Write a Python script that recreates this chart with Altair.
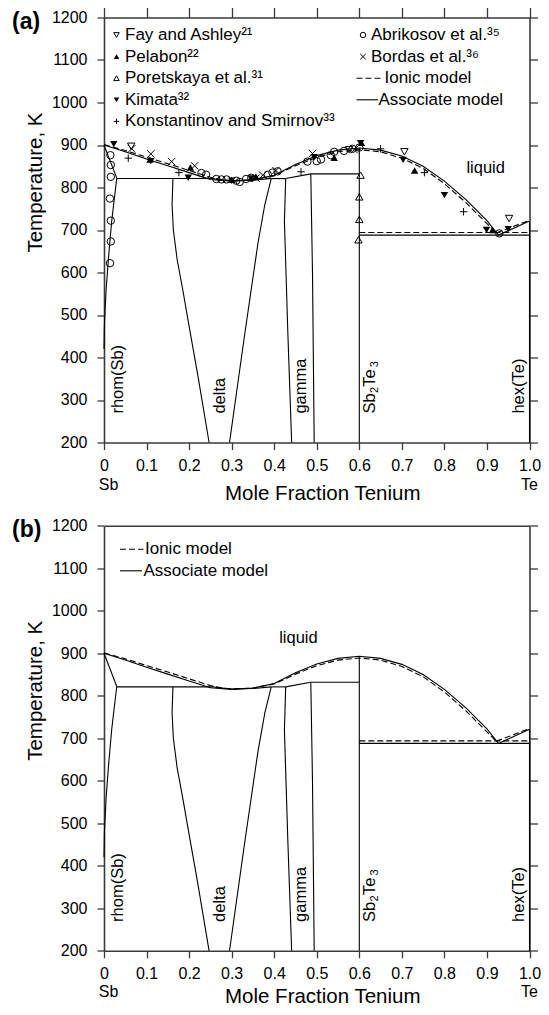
import altair as alt
import pandas as pd

FONT = "Liberation Sans"
W = 425.5         # plot width
PH = 425          # panel plot height
GAP = 508.3       # offset of panel (b) plot top below panel (a) plot top
HT = GAP + PH     # total inner height
AX = "#3a3a3a"

# ---------------- phase boundaries (Associate model, solid) ----------------
assoc = {
    "liq":      ([0, 0.05, 0.1, 0.15, 0.2, 0.25, 0.3, 0.35, 0.4, 0.45, 0.5, 0.55, 0.6, 0.65, 0.7, 0.75, 0.8, 0.85, 0.9, 0.927],
                 [900, 884, 867, 851, 835, 819, 815, 818, 829, 854, 875, 888, 893, 888, 874, 850, 815, 772, 722, 688]),
    "liqTe":    ([0.927, 1.0], [688, 721]),
    "rhomSol":  ([0, 0.03], [900, 822]),
    "rhomSolv": ([0.03, 0.025, 0.018, 0.011, 0.005, 0.001, 0.0], [822, 780, 720, 640, 560, 480, 420]),
    "eut1":     ([0.03, 0.26], [821, 821]),
    "deltaSol": ([0.26, 0.3, 0.35, 0.393], [820, 816, 817, 821]),
    "deltaL":   ([0.162, 0.160, 0.163, 0.172, 0.185, 0.198, 0.221, 0.247], [821, 760, 700, 630, 560, 485, 355, 200]),
    "deltaR":   ([0.295, 0.33, 0.362, 0.378, 0.393], [200, 450, 670, 760, 821]),
    "per1":     ([0.393, 0.427], [821, 821]),
    "gammaL":   ([0.427, 0.424, 0.432, 0.441], [821, 720, 460, 200]),
    "gammaTop": ([0.427, 0.486], [821, 832]),
    "gammaR":   ([0.486, 0.490, 0.494], [832, 600, 200]),
    "per2":     ([0.486, 0.6], [832, 832]),
    "sb2te3":   ([0.6, 0.6], [200, 893]),
    "eut2":     ([0.6, 1.0], [688, 688]),
    "hexTe":    ([1.0, 1.0], [721, 200]),
}
# ---------------- Ionic model (dashed) ----------------
ionic = {
    "liq":   ([0, 0.05, 0.1, 0.15, 0.2, 0.25, 0.28, 0.3, 0.35, 0.4, 0.45, 0.5, 0.55, 0.6, 0.65, 0.7, 0.75, 0.8, 0.85, 0.9, 0.922],
              [901, 887, 871, 856, 840, 824, 818, 816, 818, 828, 851, 871, 884, 889, 884, 869, 845, 809, 765, 715, 693]),
    "liqTe": ([0.922, 1.0], [693, 723]),
    "eut2":  ([0.6, 1.0], [694, 694]),
}

# ---------------- experimental data (panel a) ----------------
fay_x = [0.064, 0.576, 0.706, 0.952]
fay_T = [897, 889, 884, 727]
pelabon_x = [0.108, 0.203, 0.300, 0.357, 0.541, 0.605, 0.730, 0.913]
pelabon_T = [866, 847, 818, 826, 870, 905, 840, 700]
poret_x = [0.603, 0.600, 0.600, 0.598]
poret_T = [829, 778, 725, 677]
kimata_x = [0.023, 0.110, 0.198, 0.300, 0.346, 0.494, 0.603, 0.703, 0.800, 0.899, 0.950]
kimata_T = [902, 862, 823, 816, 821, 871, 904, 865, 782, 700, 702]
konst_x = [0.057, 0.176, 0.463, 0.650, 0.753, 0.845]
konst_T = [869, 835, 837, 891, 835, 743]
abrik_x = [0.015, 0.016, 0.016, 0.014, 0.016, 0.016, 0.014, 0.229, 0.240, 0.264, 0.276, 0.288, 0.311,
           0.319, 0.334, 0.346, 0.385, 0.396, 0.408, 0.478, 0.500, 0.510, 0.533, 0.541, 0.564, 0.584, 0.600, 0.929]
abrik_T = [876, 853, 825, 774, 722, 673, 622, 834, 830, 820, 819, 819, 816,
           813, 820, 823, 830, 835, 838, 861, 862, 866, 876, 884, 886, 891, 894, 692]
bordas_x = [0.065, 0.110, 0.159, 0.213, 0.357, 0.373, 0.404, 0.490, 0.588]
bordas_T = [891, 879, 861, 851, 822, 829, 840, 880, 889]

# ---------------- text ----------------
phase_labels = ["rhom(Sb)", "delta", "gamma", "hex(Te)"]
phase_label_x = [0.032, 0.272, 0.464, 0.975]
phase_label_T = [268, 268, 268, 268]
compound_parts = ["Sb", "2", "Te", "3"]
compound_x, compound_T = 0.626, 268
x_ticks = [round(i * 0.1, 1) for i in range(11)]
y_ticks = list(range(200, 1201, 100))

PLUS = "M-1,0L1,0M0,-1L0,1"
CROSS = "M-1,-1L1,1M-1,1L1,-1"

series = [
    ("Fay and Ashley\u00b2\u00b9", fay_x, fay_T, "triangle-down", False),
    ("Pelabon\u00b2\u00b2", pelabon_x, pelabon_T, "triangle-up", True),
    ("Poretskaya et al.\u00b3\u00b9", poret_x, poret_T, "triangle-up", False),
    ("Kimata\u00b3\u00b2", kimata_x, kimata_T, "triangle-down", True),
    ("Konstantinov and Smirnov\u00b3\u00b3", konst_x, konst_T, PLUS, False),
    ("Abrikosov et al.\u00b3\u2075", abrik_x, abrik_T, "circle", False),
    ("Bordas et al.\u00b3\u2076", bordas_x, bordas_T, CROSS, False),
]


def seg_df(segs):
    rows = []
    for name, (xs_, ts) in segs.items():
        for i, (x, t) in enumerate(zip(xs_, ts)):
            rows.append({"seg": name, "i": i, "x": x, "T": t})
    return pd.DataFrame(rows)


one = pd.DataFrame({"k": [0]})


def txt(s, x, y, size=17, align="left", angle=0, weight="normal"):
    return alt.Chart(one).mark_text(
        text=s, align=align, baseline="middle", fontSize=size, font=FONT,
        angle=angle, fontWeight=weight, color="black"
    ).encode(x=alt.value(x), y=alt.value(y))


def panel(tag, off, with_points, liquid_xy, title_dy, sbte_dy):
    is_a = off == 0
    xs = alt.Scale(domain=[0, 1], nice=False, zero=False)
    ys = alt.Scale(domain=[200, 1200], range=[PH + off, off], nice=False, zero=False)
    common = dict(domainColor=AX, tickColor=AX, domainWidth=1.6, tickWidth=1.3, title=None, grid=False)
    bottom_axis = alt.Axis(orient="bottom", values=x_ticks, tickSize=7, labelPadding=8,
                           offset=-(HT - PH - off),
                           labelExpr="datum.value == 0 ? '0' : format(datum.value, '.1f')",
                           labelFontSize=16, labelFont=FONT, labelColor="black", labelFlush=False, **common)
    left_axis = alt.Axis(orient="left", values=y_ticks, tickSize=7, labelPadding=10, format="d",
                         labelFontSize=16, labelFont=FONT, labelColor="black", labelFlush=False, **common)
    top_axis = alt.Axis(orient="top", values=x_ticks, labels=False, ticks=is_a, tickSize=10,
                        offset=-off, **common)
    right_axis = alt.Axis(orient="right", values=y_ticks, labels=False, tickSize=8, **common)

    def X(ax=None):
        return alt.X("x:Q", scale=xs, axis=ax)

    def Y(ax=None):
        return alt.Y("T:Q", scale=ys, axis=ax)

    solid = alt.Chart(seg_df(assoc)).mark_line(color="black", strokeWidth=1.1).encode(
        x=X(bottom_axis), y=Y(left_axis), detail="seg:N", order="i:Q")
    dashed = alt.Chart(seg_df(ionic)).mark_line(color="black", strokeWidth=1.1, strokeDash=[6, 3]).encode(
        x=X(top_axis), y=Y(right_axis), detail="seg:N", order="i:Q")

    lab_df = pd.DataFrame({"x": phase_label_x, "T": phase_label_T, "lab": phase_labels})
    labs = alt.Chart(lab_df).mark_text(angle=270, align="left", baseline="middle", fontSize=16.5,
                                       font=FONT, color="black").encode(x=X(), y=Y(), text="lab:N")
    layers = [solid, dashed, labs]

    # Sb2Te3 with subscripts
    cdf = pd.DataFrame({"x": [compound_x], "T": [compound_T]})
    part_style = [(16.5, 0, 0), (11, 20.5, 4.5), (16.5, 26.8, 0), (11, 46.3, 4.5)]
    for part, (fs, ddx, ddy) in zip(compound_parts, part_style):
        layers.append(alt.Chart(cdf).mark_text(text=part, angle=270, align="left", baseline="middle",
                                               fontSize=fs, font=FONT, color="black", dx=ddx, dy=ddy)
                      .encode(x=X(), y=Y()))

    liq_df = pd.DataFrame({"x": [liquid_xy[0]], "T": [liquid_xy[1]], "lab": ["liquid"]})
    layers.append(alt.Chart(liq_df).mark_text(align="center", baseline="middle", fontSize=16.5, font=FONT,
                                              color="black").encode(x=X(), y=Y(), text="lab:N"))

    layers += [
        txt("Sb", 4.5, off + PH + sbte_dy, size=16, align="center"),
        txt("Te", W, off + PH + sbte_dy, size=16, align="center"),
        txt("Mole Fraction Tenium", W / 2 + 6, off + PH + title_dy, size=20.5, align="center"),
        txt("Temperature, K", -68, off + 165, size=20.5, align="center", angle=270),
        txt(tag, -92, off + 4.5, size=23, weight="bold"),
    ]

    if with_points:
        for name, px, pt, shape, filled in series:
            d = pd.DataFrame({"x": px, "T": pt})
            layers.append(alt.Chart(d).mark_point(shape=shape, filled=filled, size=55, strokeWidth=1,
                                                  color="black", opacity=1).encode(x=X(), y=Y()))
        for k, (name, _, _, shape, filled) in enumerate(series):
            if k < 5:
                sx, tx, yy = 12.5, 21, off + 17.5 + 21.6 * k
            else:
                sx, tx, yy = 259, 267, off + 17.5 + 21.6 * (k - 5)
            layers.append(alt.Chart(one).mark_point(shape=shape, filled=filled, size=30, strokeWidth=1,
                                                    color="black", opacity=1).encode(
                x=alt.value(sx), y=alt.value(yy)))
            layers.append(txt(name, tx, yy))
        y3, y4 = off + 17.5 + 21.6 * 2, off + 17.5 + 21.6 * 3
        layers.append(alt.Chart(one).mark_rule(color="black", strokeWidth=1.1, strokeDash=[6, 3]).encode(
            x=alt.value(252.5), x2=alt.value(279), y=alt.value(y3)))
        layers.append(txt("Ionic model", 280.5, y3))
        layers.append(alt.Chart(one).mark_rule(color="black", strokeWidth=1.1).encode(
            x=alt.value(252.5), x2=alt.value(274), y=alt.value(y4)))
        layers.append(txt("Associate model", 274.5, y4))
    else:
        layers.append(alt.Chart(one).mark_rule(color="black", strokeWidth=1.1, strokeDash=[6, 3]).encode(
            x=alt.value(16), x2=alt.value(39.5), y=alt.value(off + 23.5)))
        layers.append(txt("Ionic model", 41, off + 23.5))
        layers.append(alt.Chart(one).mark_rule(color="black", strokeWidth=1.1).encode(
            x=alt.value(16), x2=alt.value(38), y=alt.value(off + 45)))
        layers.append(txt("Associate model", 39.5, off + 45))
    return layers


layers = (panel("(a)", 0, True, (0.897, 846), 52, 42.5)
          + panel("(b)", GAP, False, (0.457, 936), 45.8, 41))

chart = (
    alt.layer(*layers)
    .resolve_scale(x="independent", y="independent")
    .properties(width=W, height=HT,
                autosize=alt.AutoSizeParams(type="none"),
                padding={"left": 96, "top": 9.5, "right": 11.5, "bottom": 56})
    .configure_view(stroke=None)
    .configure_axis(grid=False)
)
chart.save("out.html", embed_options={"renderer": "svg", "actions": False})
